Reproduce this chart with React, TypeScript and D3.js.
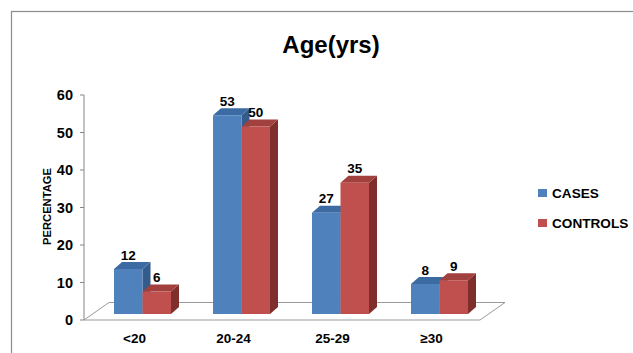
import * as d3 from 'd3';

const categories = ['<20', '20-24', '25-29', '≥30'];
const seriesNames = ['CASES', 'CONTROLS'];
const casesValues = [12, 53, 27, 8];
const controlsValues = [6, 50, 35, 9];
const yTickValues = [0, 10, 20, 30, 40, 50, 60];

const W = 633;
const H = 353;
const FONT = "'Liberation Sans', Arial, sans-serif";

// colours: front, top, side
const palette = [
  { front: '#4F81BD', top: '#3C6AA3', side: '#335C8C' },
  { front: '#C0504D', top: '#A1403D', side: '#7F2E2C' },
];

// floor depth and bar depth (oblique projection)
const floorDx = 25;
const floorDy = -17.5;
const barDx = 8;
const barDy = -7;
const barShiftX = 9;
const barShiftY = -6;

export default function App() {
  const x = d3.scaleBand<string>().domain(categories).range([84, 480]);
  const inner = d3.scaleBand<string>().domain(seriesNames).range([-28.5, 28.5]);
  const y = d3.scaleLinear().domain([0, 60]).range([320, 95]);

  const values = [casesValues, controlsValues];
  const x0 = x.range()[0];
  const x1 = x.range()[1];
  const y0 = y(0);

  const floor = [
    [x0, y0],
    [x1, y0],
    [x1 + floorDx, y0 + floorDy],
    [x0 + floorDx, y0 + floorDy],
  ]
    .map((p) => p.join(','))
    .join(' ');

  return (
    <svg
      width={W}
      height={H}
      style={{ position: 'absolute', left: 0, top: 0, background: '#fff' }}
      fontFamily={FONT}
    >
      {/* chart frame */}
      <rect x={11.5} y={11.5} width={700} height={400} fill="none" stroke="#8C8C8C" strokeWidth={1.2} />

      {/* title */}
      <text x={331} y={53} textAnchor="middle" fontSize={24} fontWeight="bold" fill="#000">
        Age(yrs)
      </text>

      {/* floor */}
      <polygon points={floor} fill="none" stroke="#9A9A9A" strokeWidth={1} />

      {/* y axis */}
      <line x1={x0} x2={x0} y1={y(60)} y2={y0} stroke="#868686" />
      {yTickValues.map((t) => (
        <g key={t}>
          <line x1={x0 - 4} x2={x0} y1={y(t)} y2={y(t)} stroke="#868686" />
          <text x={73} y={y(t) + 5} textAnchor="end" fontSize={14.5} fontWeight="bold" fill="#000">
            {t}
          </text>
        </g>
      ))}
      <text
        transform={`translate(51,206.5) rotate(-90)`}
        textAnchor="middle"
        fontSize={11.2}
        fontWeight="bold"
        fill="#000"
      >
        PERCENTAGE
      </text>

      {/* category labels */}
      {categories.map((c) => (
        <text
          key={c}
          x={(x(c) ?? 0) + x.bandwidth() / 2 + 1}
          y={343}
          textAnchor="middle"
          fontSize={13.5}
          fontWeight="bold"
          fill="#000"
        >
          {c}
        </text>
      ))}

      {/* bars */}
      {categories.map((c, i) => {
        const cx = (x(c) ?? 0) + x.bandwidth() / 2 + barShiftX;
        return (
          <g key={c}>
            {seriesNames.map((s, j) => {
              const v = values[j][i];
              const left = cx + (inner(s) ?? 0);
              const right = left + inner.bandwidth();
              const bottom = y0 + barShiftY;
              const top = y(v) + barShiftY;
              const col = palette[j];
              const topPts = [
                [left, top],
                [right, top],
                [right + barDx, top + barDy],
                [left + barDx, top + barDy],
              ];
              const sidePts = [
                [right, top],
                [right + barDx, top + barDy],
                [right + barDx, bottom + barDy],
                [right, bottom],
              ];
              return (
                <g key={s}>
                  <polygon points={sidePts.map((p) => p.join(',')).join(' ')} fill={col.side} />
                  <polygon points={topPts.map((p) => p.join(',')).join(' ')} fill={col.top} />
                  <rect x={left} y={top} width={right - left} height={bottom - top} fill={col.front} />
                  <text
                    x={(left + right) / 2}
                    y={top - 9.5}
                    textAnchor="middle"
                    fontSize={13.5}
                    fontWeight="bold"
                    fill="#000"
                  >
                    {v}
                  </text>
                </g>
              );
            })}
          </g>
        );
      })}

      {/* legend */}
      {seriesNames.map((s, j) => (
        <g key={s} transform={`translate(538,${189 + j * 30})`}>
          <rect x={0} y={0} width={9} height={8} fill={palette[j].front} />
          <text x={14} y={8.8} fontSize={13.6} fontWeight="bold" fill="#000">
            {s}
          </text>
        </g>
      ))}
    </svg>
  );
}
